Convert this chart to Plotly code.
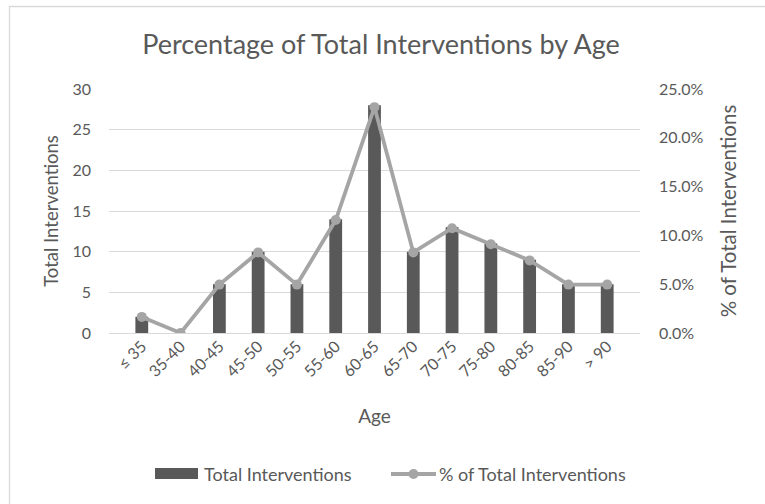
import plotly.graph_objects as go

categories = ["≤ 35", "35-40", "40-45", "45-50", "50-55", "55-60", "60-65",
              "65-70", "70-75", "75-80", "80-85", "85-90", "> 90"]
total_interventions = [2, 0, 6, 10, 6, 14, 28, 10, 13, 11, 9, 6, 6]
pct_interventions = [0.0165, 0.0, 0.0496, 0.0826, 0.0496, 0.1157, 0.2314,
                     0.0826, 0.1074, 0.0909, 0.0744, 0.0496, 0.0496]
left_ticks = [0, 5, 10, 15, 20, 25, 30]
right_ticks = [0.0, 0.05, 0.10, 0.15, 0.20, 0.25]

FONT = "Lato"
TXT = "#595959"
GRID = "#D9D9D9"
BAR = "#595959"
LINE = "#A5A5A5"

W, H = 765, 504
L, R, T, B = 109, 125, 89, 171
pw, ph = W - L - R, H - T - B

def px(x):
    return (x - L) / pw

def py(y):
    return (H - B - y) / ph

fig = go.Figure()
fig.add_trace(go.Bar(
    x=categories, y=total_interventions, name="Total Interventions",
    marker=dict(color=BAR, line=dict(width=0)), yaxis="y", showlegend=False,
))
fig.add_trace(go.Scatter(
    x=categories, y=pct_interventions, name="% of Total Interventions",
    mode="lines+markers", yaxis="y2", showlegend=False,
    line=dict(color=LINE, width=3.8),
    marker=dict(color=LINE, size=10),
))

fig.update_layout(
    width=W, height=H,
    margin=dict(l=L, r=R, t=T, b=B),
    paper_bgcolor="white", plot_bgcolor="white",
    font=dict(family=FONT, color=TXT, size=16),
    bargap=0.67,
    title=dict(text="Percentage of Total Interventions by Age",
               xref="container", x=381 / W, xanchor="center",
               yref="container", y=1 - 45 / H, yanchor="middle",
               font=dict(size=27, color=TXT, family=FONT)),
    xaxis=dict(tickangle=-45, showgrid=False, showline=False, ticks="",
               tickfont=dict(size=16, color=TXT),
               title=dict(text="Age", font=dict(size=19, color=TXT), standoff=30)),
    yaxis=dict(range=[0, 30], tickvals=left_ticks, showgrid=True, gridcolor=GRID,
               gridwidth=1.3, zeroline=True, zerolinecolor=GRID, zerolinewidth=1.3,
               showline=False, ticks="", tickfont=dict(size=16, color=TXT),
               ticklabelstandoff=17,
               title=dict(text="Total Interventions", font=dict(size=18.5, color=TXT),
                          standoff=8)),
    yaxis2=dict(range=[0, 0.25], tickvals=right_ticks, tickformat=".1%",
                overlaying="y", side="right", showgrid=False, zeroline=False,
                showline=False, ticks="", tickfont=dict(size=16, color=TXT),
                ticklabelstandoff=18,
                title=dict(text="% of Total Interventions", font=dict(size=20.5, color=TXT),
                           standoff=19)),
    showlegend=False,
)

# chart-area border (left and top edges visible)
fig.add_shape(type="rect", xref="paper", yref="paper",
              x0=px(9.5), x1=px(800), y0=py(540), y1=py(6.5),
              line=dict(color=GRID, width=1.3), fillcolor="rgba(0,0,0,0)", layer="below")

# custom legend
leg_y = py(474)
fig.add_shape(type="rect", xref="paper", yref="paper",
              x0=px(155), x1=px(198), y0=py(479), y1=py(468),
              line=dict(width=0), fillcolor=BAR)
fig.add_annotation(text="Total Interventions", xref="paper", yref="paper",
                   x=px(202), y=leg_y, xanchor="left", yanchor="middle",
                   showarrow=False, font=dict(size=18, color=TXT, family=FONT))
fig.add_shape(type="line", xref="paper", yref="paper",
              x0=px(391), x1=px(436), y0=leg_y, y1=leg_y,
              line=dict(color=LINE, width=3.8))
fig.add_shape(type="circle", xref="paper", yref="paper",
              x0=px(408.5), x1=px(418.5), y0=py(479), y1=py(469),
              line=dict(width=0), fillcolor=LINE)
fig.add_annotation(text="% of Total Interventions", xref="paper", yref="paper",
                   x=px(437), y=leg_y, xanchor="left", yanchor="middle",
                   showarrow=False, font=dict(size=18, color=TXT, family=FONT))

fig.write_html("out.html", config={"displayModeBar": False},
               post_script="document.body.style.margin='0';")
